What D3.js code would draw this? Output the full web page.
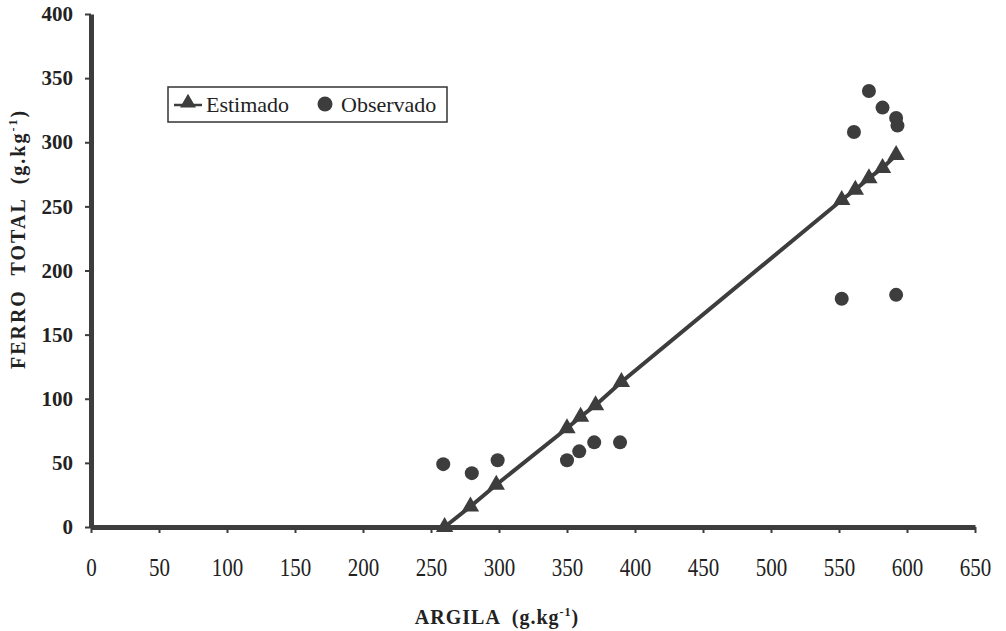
<!DOCTYPE html>
<html>
<head>
<meta charset="utf-8">
<script src="https://cdn.jsdelivr.net/npm/d3@7"></script>
<style>
  body { margin: 0; background: #fff; }
  svg { display: block; }
  svg text { font-family: "Liberation Serif", "Times New Roman", serif; white-space: pre; }
</style>
</head>
<body>
<div id="chart"></div>
<script>
/*-------------------- Données -------------------*/

// Argila (g.kg-1) des points estimés et valeurs estimées de ferro total
var argilaEstimado = [260, 279, 298, 350, 360, 371, 390, 552, 562, 572, 582, 592];
var ferroEstimado  = [0, 16, 33, 77, 86, 95, 113, 255, 263, 272, 280, 290];

// Valeurs observées
var argilaObservado = [259, 280, 299, 350, 359, 370, 389, 552, 561, 572, 582, 592, 593, 592];
var ferroObservado  = [49, 42, 52, 52, 59, 66, 66, 178, 308, 340, 327, 319, 313, 181];

var xTicks = [0, 50, 100, 150, 200, 250, 300, 350, 400, 450, 500, 550, 600, 650];
var yTicks = [0, 50, 100, 150, 200, 250, 300, 350, 400];

var ink = "#3d3d3d";
var width = 1006, height = 631;

var svg = d3.select("#chart").append("svg")
    .attr("width", width)
    .attr("height", height);

var xScale = d3.scaleLinear().domain([0, 650]).range([91, 975]);
var yScale = d3.scaleLinear().domain([0, 400]).range([527, 14]);

// Axes
var xAxis = svg.append("g")
    .attr("transform", "translate(0," + yScale(0) + ")")
    .call(d3.axisBottom(xScale).tickValues(xTicks).tickSize(6).tickSizeOuter(0).tickPadding(25));
xAxis.select(".domain").attr("stroke", ink).attr("stroke-width", 5);
xAxis.selectAll(".tick line").attr("stroke", ink).attr("stroke-width", 2);
// étiquettes compressées horizontalement, comme sur la figure
xAxis.selectAll(".tick text")
    .attr("fill", "#222")
    .style("font-family", "'Liberation Serif', serif")
    .style("font-size", "25px")
    .style("transform-box", "fill-box")
    .style("transform-origin", "center")
    .style("transform", "scaleX(0.84)");

var yAxis = svg.append("g")
    .attr("transform", "translate(" + xScale(0) + ",0)")
    .call(d3.axisLeft(yScale).tickValues(yTicks).tickSize(6).tickSizeOuter(0).tickPadding(12));
yAxis.select(".domain").attr("stroke", ink).attr("stroke-width", 5);
yAxis.selectAll(".tick line").attr("stroke", ink).attr("stroke-width", 2);
yAxis.selectAll(".tick text")
    .attr("fill", "#222")
    .style("font-family", "'Liberation Serif', serif")
    .style("font-size", "21px")
    .style("font-weight", "bold");

// Titres des axes
var yTitle = svg.append("text")
    .attr("transform", "translate(25,239) rotate(-90)")
    .attr("text-anchor", "middle")
    .style("font-size", "20px")
    .style("font-weight", "bold")
    .style("letter-spacing", "2px")
    .attr("fill", "#222");
yTitle.append("tspan").text("FERRO  TOTAL  (g.kg");
yTitle.append("tspan").attr("dy", -8).style("font-size", "12px").text("-1");
yTitle.append("tspan").attr("dy", 8).text(")");

var xTitle = svg.append("text")
    .attr("x", 497)
    .attr("y", 624)
    .attr("text-anchor", "middle")
    .style("font-size", "20px")
    .style("font-weight", "bold")
    .style("letter-spacing", "1px")
    .attr("fill", "#222");
xTitle.append("tspan").text("ARGILA  (g.kg");
xTitle.append("tspan").attr("dy", -8).style("font-size", "12px").text("-1");
xTitle.append("tspan").attr("dy", 8).text(")");

// Série estimée : ligne + triangles
var estimado = argilaEstimado.map(function(d, i) { return {x: d, y: ferroEstimado[i]}; });
var observado = argilaObservado.map(function(d, i) { return {x: d, y: ferroObservado[i]}; });

svg.append("path")
    .datum(estimado)
    .attr("fill", "none")
    .attr("stroke", ink)
    .attr("stroke-width", 4)
    .attr("d", d3.line().x(d => xScale(d.x)).y(d => yScale(d.y)));

var triangle = d3.symbol().type(d3.symbolTriangle).size(130);

svg.selectAll("path.est")
    .data(estimado)
    .enter()
    .append("path")
    .attr("class", "est")
    .attr("d", triangle)
    .attr("transform", d => "translate(" + xScale(d.x) + "," + yScale(d.y) + ")")
    .attr("fill", ink);

// Série observée : cercles
svg.selectAll("circle.obs")
    .data(observado)
    .enter()
    .append("circle")
    .attr("class", "obs")
    .attr("cx", d => xScale(d.x))
    .attr("cy", d => yScale(d.y))
    .attr("r", 7)
    .attr("fill", ink);

// Légende
var legend = svg.append("g").attr("transform", "translate(168,87)");
legend.append("rect")
    .attr("width", 279)
    .attr("height", 35)
    .attr("fill", "#fff")
    .attr("stroke", "#333")
    .attr("stroke-width", 1.5);
legend.append("line")
    .attr("x1", 6).attr("x2", 34).attr("y1", 18).attr("y2", 18)
    .attr("stroke", ink).attr("stroke-width", 2.5);
legend.append("path")
    .attr("d", d3.symbol().type(d3.symbolTriangle).size(110))
    .attr("transform", "translate(20,16)")
    .attr("fill", ink);
legend.append("text")
    .attr("x", 38).attr("y", 25)
    .style("font-size", "22px")
    .attr("fill", "#222")
    .text("Estimado");
legend.append("circle")
    .attr("cx", 157).attr("cy", 17).attr("r", 7.5)
    .attr("fill", ink);
legend.append("text")
    .attr("x", 173).attr("y", 25)
    .style("font-size", "22px")
    .attr("fill", "#222")
    .text("Observado");
</script>
</body>
</html>
